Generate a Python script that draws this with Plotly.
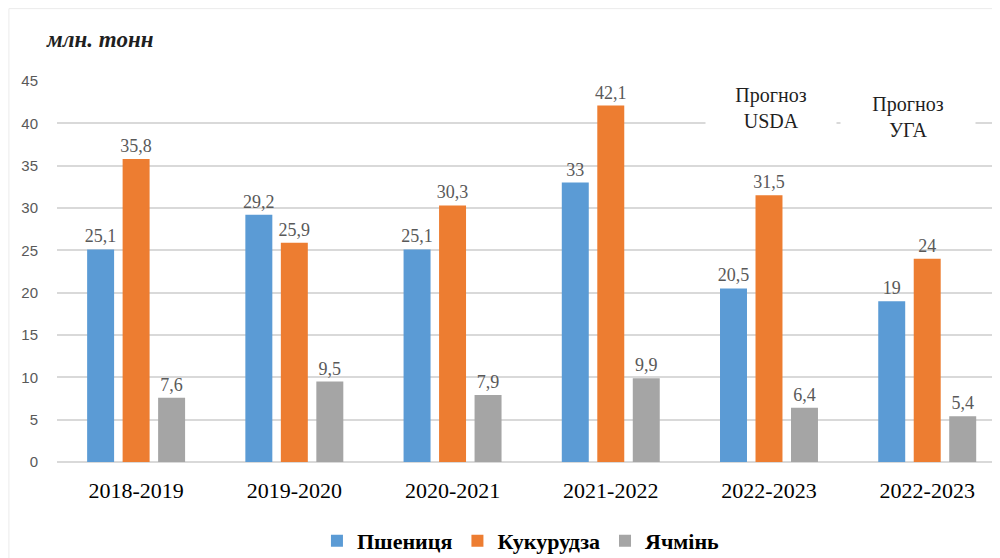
import plotly.graph_objects as go

categories = ["2018-2019", "2019-2020", "2020-2021", "2021-2022", "2022-2023", "2022-2023"]
wheat = [25.1, 29.2, 25.1, 33, 20.5, 19]
corn = [35.8, 25.9, 30.3, 42.1, 31.5, 24]
barley = [7.6, 9.5, 7.9, 9.9, 6.4, 5.4]
series_names = ["Пшениця", "Кукурудза", "Ячмінь"]
colors = ["#5B9BD5", "#ED7D31", "#A5A5A5"]
y_ticks = [0, 5, 10, 15, 20, 25, 30, 35, 40, 45]
forecast_notes = ["Прогноз<br>USDA", "Прогноз<br>УГА"]

SERIF = "Liberation Serif"
SANS = "Liberation Sans"

def fmt(v):
    return f"{v:g}".replace(".", ",")

x_pos = list(range(len(categories)))

fig = go.Figure()
for name, vals, col in zip(series_names, [wheat, corn, barley], colors):
    fig.add_trace(go.Bar(
        x=x_pos, y=vals, name=name,
        marker=dict(color=col, line=dict(width=0)),
        text=[fmt(v) for v in vals],
        textposition="outside",
        constraintext="none",
        textfont=dict(family=SERIF, size=18, color="#595959"),
        cliponaxis=False,
    ))

# page body has an 8px margin, so the figure is 8px smaller than the window
fig.update_layout(
    width=992, height=550,
    margin=dict(l=49, r=0, t=73, b=96, autoexpand=False),
    paper_bgcolor="white", plot_bgcolor="white",
    barmode="group", bargap=0.327, bargroupgap=0.24,
    showlegend=True,
    legend=dict(orientation="h", x=0.492, xanchor="center", y=-0.207, yanchor="middle",
                font=dict(family=SERIF, size=22, color="#000000", weight="bold"),
                itemwidth=30, traceorder="normal"),
    xaxis=dict(range=[-0.5, 5.46], tickmode="array", tickvals=x_pos, ticktext=categories,
               tickfont=dict(family=SERIF, size=22, color="#000000"),
               showgrid=False, zeroline=False, showline=False, ticks="",
               ticklabelstandoff=13),
    yaxis=dict(range=[0, 45], tickmode="array", tickvals=y_ticks,
               tickfont=dict(family=SANS, size=15, color="#595959"),
               showgrid=True, gridcolor="#D9D9D9", gridwidth=1.5,
               zeroline=True, zerolinecolor="#D9D9D9", zerolinewidth=1.5,
               showline=False, ticks="", ticklabelstandoff=18),
    font=dict(family=SERIF),
)

# unit label
fig.add_annotation(xref="paper", yref="paper", x=-0.014, y=1.108, xanchor="left", yanchor="middle",
                   text="<b><i>млн. тонн</i></b>", showarrow=False,
                   font=dict(family=SERIF, size=23, color="#1F1F1F"))

# forecast notes (white boxes hide gridlines)
fig.add_annotation(xref="x", yref="paper", x=4.01, y=0.93, text=forecast_notes[0], showarrow=False,
                   font=dict(family=SERIF, size=20, color="#1F1F1F"),
                   bgcolor="white", width=128, height=74, xanchor="center", yanchor="middle")
fig.add_annotation(xref="x", yref="paper", x=4.88, y=0.905, text=forecast_notes[1], showarrow=False,
                   font=dict(family=SERIF, size=20, color="#1F1F1F"),
                   bgcolor="white", width=132, height=84, xanchor="center", yanchor="middle")

# faint chart border
fig.add_shape(type="line", xref="paper", yref="paper", x0=-0.051, x1=-0.051, y0=1.19, y1=-0.26,
              line=dict(color="#EBEBEB", width=1))
fig.add_shape(type="line", xref="paper", yref="paper", x0=-0.051, x1=1.0, y0=1.19, y1=1.19,
              line=dict(color="#EBEBEB", width=1))

fig.write_html("out.html")
